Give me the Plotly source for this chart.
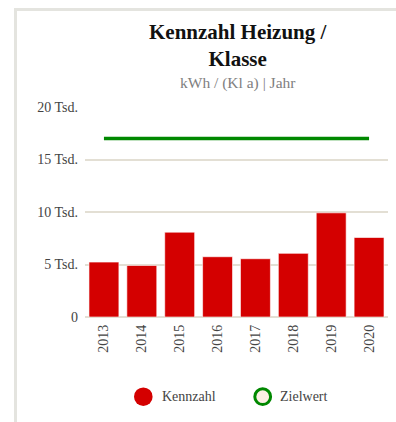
import plotly.graph_objects as go

# Data
years = ["2013", "2014", "2015", "2016", "2017", "2018", "2019", "2020"]
kennzahl = [5230, 4910, 8080, 5740, 5550, 6060, 9920, 7570]
zielwert = [17000, 17000, 17000, 17000, 17000, 17000, 17000, 17000]
y_ticks = [0, 5000, 10000, 15000, 20000]
y_tick_labels = ["0", "5 Tsd.", "10 Tsd.", "15 Tsd.", "20 Tsd."]

W, H = 396, 422
ML, MR, MT, MB = 85, 8, 107, 105
PW, PH = W - ML - MR, H - MT - MB

FONT = "Liberation Serif"
RED = "#d40000"
GREEN = "#008800"


def px_x(px):
    return (px - ML) / PW


def px_y(py):
    return (H - MB - py) / PH


fig = go.Figure()
fig.add_trace(go.Bar(
    x=years, y=kennzahl, name="Kennzahl",
    marker=dict(color=RED, line=dict(color="rgba(255,255,255,0.6)", width=1)),
    showlegend=False,
))
fig.add_trace(go.Scatter(
    x=years, y=zielwert, name="Zielwert", mode="lines",
    line=dict(color=GREEN, width=3.5), showlegend=False,
))

shapes = [
    # outer frame (top and left edges)
    dict(type="rect", xref="paper", yref="paper",
         x0=px_x(15.5), x1=px_x(W + 20), y0=px_y(H + 20), y1=px_y(9.5),
         line=dict(color="#e4e4df", width=3), fillcolor="rgba(0,0,0,0)", layer="below"),
]

# legend symbols
cy = 396.7
r1 = 9.3
shapes.append(dict(type="circle", xref="paper", yref="paper",
                   x0=px_x(143.3 - r1), x1=px_x(143.3 + r1),
                   y0=px_y(cy + r1), y1=px_y(cy - r1),
                   fillcolor=RED, line=dict(width=0)))
r2 = 7.9
shapes.append(dict(type="circle", xref="paper", yref="paper",
                   x0=px_x(262.7 - r2), x1=px_x(262.7 + r2),
                   y0=px_y(cy + r2), y1=px_y(cy - r2),
                   fillcolor="#fbefe4", line=dict(color=GREEN, width=3)))

annotations = [
    dict(text="<b>Kennzahl Heizung /<br>Klasse</b>", xref="paper", yref="paper",
         x=px_x(238), y=px_y(45.5), xanchor="center", yanchor="middle",
         showarrow=False, font=dict(family=FONT, size=21, color="#111111")),
    dict(text="kWh / (Kl a) | Jahr", xref="paper", yref="paper",
         x=px_x(238), y=px_y(83), xanchor="center", yanchor="middle",
         showarrow=False, font=dict(family=FONT, size=15.5, color="#808080")),
    dict(text="Kennzahl", xref="paper", yref="paper",
         x=px_x(159.5), y=px_y(cy), xanchor="left", yanchor="middle",
         showarrow=False, font=dict(family=FONT, size=14, color="#444444")),
    dict(text="Zielwert", xref="paper", yref="paper",
         x=px_x(278), y=px_y(cy), xanchor="left", yanchor="middle",
         showarrow=False, font=dict(family=FONT, size=14, color="#444444")),
]

fig.update_layout(
    width=W, height=H,
    margin=dict(l=ML, r=MR, t=MT, b=MB, pad=0),
    paper_bgcolor="white", plot_bgcolor="white",
    bargap=0.21,
    showlegend=False,
    shapes=shapes,
    annotations=annotations,
    font=dict(family=FONT, size=14, color="#444444"),
)
fig.update_xaxes(
    type="category", range=[-0.5, 7.5], tickangle=-90,
    showgrid=False, showline=False, zeroline=False, ticks="",
    tickfont=dict(family=FONT, size=14, color="#444444"),
    ticklabelstandoff=4,
)
fig.update_yaxes(
    range=[0, 20000], tickvals=y_ticks, ticktext=y_tick_labels,
    showgrid=True, gridcolor="#e3dfd4", gridwidth=1.5,
    zeroline=True, zerolinecolor="#e3dfd4", zerolinewidth=1.5,
    showline=False, ticks="",
    tickfont=dict(family=FONT, size=14, color="#444444"),
    ticklabelstandoff=6,
)

fig.write_html("out.html")
